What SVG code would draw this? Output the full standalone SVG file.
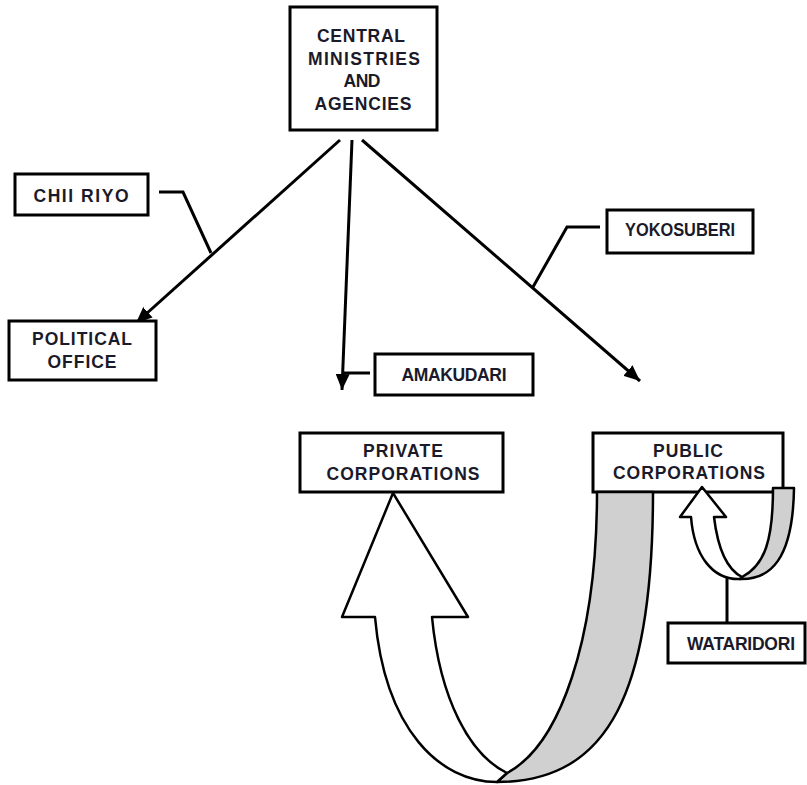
<svg xmlns="http://www.w3.org/2000/svg" width="807" height="785" viewBox="0 0 807 785">
<style>
.box{fill:#fff;stroke:#000;stroke-width:3}
.t{font-family:"Liberation Sans",Arial,sans-serif;font-weight:bold;font-size:17.5px;fill:#1a1a2a;text-anchor:middle}
.ln{fill:none;stroke:#000;stroke-width:3}
.wa{fill:#fff;stroke:#000;stroke-width:2.5;stroke-linejoin:round}
.ga{fill:#d0d0d0;stroke:#000;stroke-width:2.5;stroke-linejoin:round}
</style>
<defs>
<marker id="ah" markerUnits="userSpaceOnUse" markerWidth="18" markerHeight="14" refX="16" refY="7" orient="auto">
<path d="M0,0 L16,7 L0,14 z" fill="#000"/>
</marker>
</defs>
<rect width="807" height="785" fill="#fff"/>
<g id="connectors">
<line class="ln" x1="340" y1="140" x2="136" y2="323" marker-end="url(#ah)"/>
<line class="ln" x1="352" y1="140" x2="342" y2="390" marker-end="url(#ah)"/>
<line class="ln" x1="362" y1="140" x2="640" y2="381" marker-end="url(#ah)"/>
<polyline class="ln" points="159,192 183,192 211,253"/>
<polyline class="ln" points="370,373 342,373"/>
<polyline class="ln" points="600,227 567,227 533,287"/>
<line class="ln" x1="727" y1="578" x2="727" y2="623"/>
</g>
<g id="central">
<rect class="box" x="290" y="7" width="147" height="123"/>
<text class="t" x="361" y="42" textLength="88" lengthAdjust="spacing">CENTRAL</text>
<text class="t" x="364" y="65" textLength="112" lengthAdjust="spacing">MINISTRIES</text>
<text class="t" x="362" y="87" textLength="37" lengthAdjust="spacing">AND</text>
<text class="t" x="363" y="110" textLength="97" lengthAdjust="spacing">AGENCIES</text>
</g>
<g id="chiiriyo">
<rect class="box" x="15" y="174" width="133" height="41"/>
<text class="t" x="81" y="202" textLength="95" lengthAdjust="spacing">CHII RIYO</text>
</g>
<g id="political">
<rect class="box" x="9" y="321" width="147" height="59"/>
<text class="t" x="82" y="345" textLength="100" lengthAdjust="spacing">POLITICAL</text>
<text class="t" x="82" y="368" textLength="69" lengthAdjust="spacing">OFFICE</text>
</g>
<g id="amakudari">
<rect class="box" x="375" y="354" width="158" height="41"/>
<text class="t" x="454" y="381" textLength="105" lengthAdjust="spacing">AMAKUDARI</text>
</g>
<g id="yokosuberi">
<rect class="box" x="607" y="210" width="146" height="43"/>
<text class="t" x="680" y="236" textLength="110" lengthAdjust="spacingAndGlyphs">YOKOSUBERI</text>
</g>
<g id="private">
<rect class="box" x="300" y="433" width="203" height="59"/>
<text class="t" x="403" y="457" textLength="80" lengthAdjust="spacing">PRIVATE</text>
<text class="t" x="403" y="480" textLength="153" lengthAdjust="spacing">CORPORATIONS</text>
</g>
<g id="public">
<rect class="box" x="593" y="433" width="190" height="59"/>
<text class="t" x="688" y="457" textLength="70" lengthAdjust="spacing">PUBLIC</text>
<text class="t" x="689" y="479" textLength="152" lengthAdjust="spacing">CORPORATIONS</text>
</g>
<g id="big-loop-arrow">
<path class="ga" d="M597,492 C597,640 560,745 507,773 L497,782 C610,782 653,690 653,492 Z"/>
<path class="wa" d="M393,493 L468,617 L432,617 C440,700 470,755 507,773 L497,782 C440,782 385,730 375,617 L342,617 Z"/>
</g>
<g id="small-loop-arrow">
<path class="ga" d="M773,488 C773,540 765,565 742,577 L740,579 C770,580 793,560 794,488 Z"/>
<path class="wa" d="M702,487 L726,517 L714,517 C718,550 728,570 742,577 L740,579 C712,580 694,555 691,517 L680,517 Z"/>
</g>
<g id="wataridori">
<rect class="box" x="668" y="623" width="137" height="40"/>
<text class="t" x="741" y="650" textLength="108" lengthAdjust="spacing">WATARIDORI</text>
</g>
</svg>
